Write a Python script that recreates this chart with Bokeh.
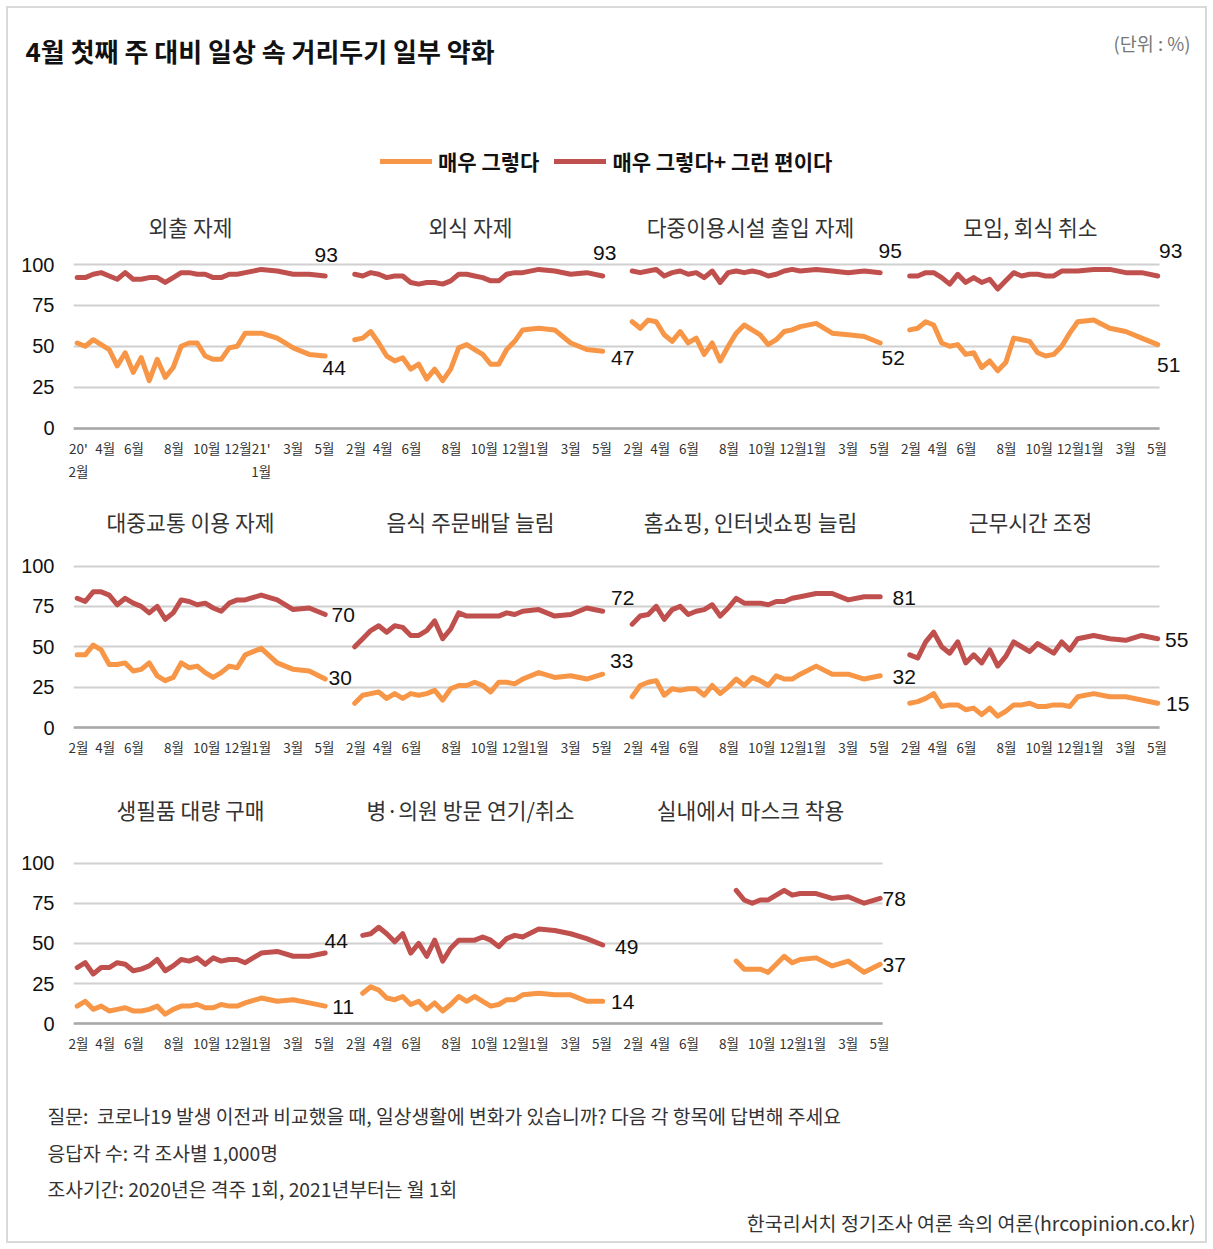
import math
from bokeh.plotting import figure
from bokeh.layouts import column
from bokeh.models import (ColumnDataSource, FixedTicker, Legend, LegendItem,
                          Range1d, Label, Grid)
from bokeh.core.properties import value
from bokeh.embed import file_html
from bokeh.resources import INLINE

KR = "Noto Sans CJK KR"
NUM = "Liberation Sans"
ORANGE = "#F79646"
RED = "#C0504D"

# ---------------- data ----------------
TITLE = "4월 첫째 주 대비 일상 속 거리두기 일부 약화"
UNIT = "(단위 : %)"
SERIES_NAMES = ["매우 그렇다", "매우 그렇다+ 그런 편이다"]

# survey waves: 2020 biweekly (22 waves), 2021 monthly (Jan-May)
WAVE_X = [0, 1, 2, 3, 4, 5, 6, 7, 8, 9, 10, 11, 12, 13, 14, 15, 16, 17, 18, 19, 20, 21,
          23, 25, 27, 29, 31]
TICK_X = [0.15, 3.5, 7.1, 12.1, 16.2, 20.1, 23.0, 27.0, 30.9]
TICK_LABELS = ["2월", "4월", "6월", "8월", "10월", "12월", "1월", "3월", "5월"]
FIRST_TICK_LABELS = ["20'\n2월", "4월", "6월", "8월", "10월", "12월", "21'\n1월", "3월", "5월"]
Y_TICKS = [0, 25, 50, 75, 100]

N = None
outing_very = [52, 50, 54, 51, 48, 38, 46, 34, 43, 29, 42, 31, 37, 50, 52, 52, 44, 42, 42, 49, 50, 58, 58, 55, 49, 45, 44]
outing_total = [92, 92, 94, 95, 93, 91, 95, 91, 91, 92, 92, 89, 92, 95, 95, 94, 94, 92, 92, 94, 94, 95, 97, 96, 94, 94, 93]
dining_very = [54, 55, 59, 52, 44, 41, 43, 36, 39, 30, 36, 29, 36, 49, 51, 48, 45, 39, 39, 48, 53, 60, 61, 60, 52, 48, 47]
dining_total = [94, 93, 95, 94, 92, 93, 93, 89, 88, 89, 89, 88, 90, 94, 94, 93, 92, 90, 90, 94, 95, 95, 97, 96, 94, 95, 93]
venue_very = [65, 61, 66, 65, 57, 53, 59, 52, 55, 45, 52, 41, 50, 58, 63, 60, 57, 51, 54, 59, 60, 62, 64, 58, 57, 56, 52]
venue_total = [96, 95, 96, 97, 93, 95, 96, 94, 95, 92, 96, 89, 95, 96, 95, 96, 95, 93, 94, 96, 97, 96, 97, 96, 95, 96, 95]
meeting_very = [60, 61, 65, 63, 52, 50, 51, 45, 46, 37, 41, 35, 40, 55, 54, 53, 46, 44, 45, 50, 58, 65, 66, 61, 59, 55, 51]
meeting_total = [93, 93, 95, 95, 92, 88, 94, 89, 92, 89, 91, 85, 90, 95, 93, 94, 94, 93, 93, 96, 96, 96, 97, 97, 95, 95, 93]

transit_very = [45, 45, 51, 48, 39, 39, 40, 35, 36, 40, 32, 29, 31, 40, 37, 38, 34, 31, 34, 38, 37, 45, 49, 40, 36, 35, 30]
transit_total = [80, 78, 84, 84, 82, 76, 80, 77, 75, 71, 75, 67, 71, 79, 78, 76, 77, 74, 72, 77, 79, 79, 82, 79, 73, 74, 70]
delivery_very = [15, 20, 21, 22, 18, 21, 18, 21, 20, 21, 23, 17, 24, 26, 26, 28, 26, 22, 28, 28, 27, 30, 34, 31, 32, 30, 33]
delivery_total = [50, 55, 60, 63, 59, 63, 62, 57, 57, 60, 66, 55, 61, 71, 69, 69, 69, 69, 69, 71, 70, 72, 73, 69, 70, 74, 72]
online_very = [19, 26, 28, 29, 20, 24, 23, 24, 24, 20, 26, 21, 25, 30, 26, 31, 29, 26, 32, 30, 30, 33, 38, 33, 33, 30, 32]
online_total = [64, 69, 70, 75, 67, 73, 75, 70, 72, 73, 76, 69, 74, 80, 77, 77, 77, 76, 78, 78, 80, 81, 83, 83, 79, 81, 81]
work_very = [15, 16, 18, 21, 13, 14, 14, 11, 12, 8, 12, 7, 10, 14, 14, 15, 13, 13, 14, 14, 13, 19, 21, 19, 19, 17, 15]
work_total = [45, 43, 53, 59, 50, 46, 53, 40, 45, 40, 48, 38, 44, 53, 50, 47, 52, 49, 46, 53, 48, 55, 57, 55, 54, 57, 55]

bulk_very = [11, 14, 9, 11, 8, 9, 10, 8, 8, 9, 11, 6, 9, 11, 11, 12, 10, 10, 12, 11, 11, 13, 16, 14, 15, 13, 11]
bulk_total = [35, 38, 31, 35, 35, 38, 37, 33, 34, 36, 40, 33, 36, 40, 39, 41, 37, 41, 39, 40, 40, 38, 44, 45, 42, 42, 44]
clinic_very = [N, 19, 23, 21, 16, 15, 17, 12, 14, 9, 13, 8, 12, 17, 14, 17, 14, 11, 12, 15, 15, 18, 19, 18, 18, 14, 14]
clinic_total = [N, 55, 56, 60, 56, 51, 56, 44, 50, 42, 52, 39, 47, 52, 52, 52, 54, 52, 48, 53, 55, 54, 59, 58, 56, 53, 49]
mask_very = [N, N, N, N, N, N, N, N, N, N, N, N, N, 39, 34, 34, 34, 32, 37, 42, 38, 40, 41, 36, 39, 32, 37]
mask_total = [N, N, N, N, N, N, N, N, N, N, N, N, N, 83, 77, 75, 77, 77, 80, 83, 80, 81, 81, 78, 79, 75, 78]

ROWS = [
    [("외출 자제", outing_very, outing_total),
     ("외식 자제", dining_very, dining_total),
     ("다중이용시설 출입 자제", venue_very, venue_total),
     ("모임, 회식 취소", meeting_very, meeting_total)],
    [("대중교통 이용 자제", transit_very, transit_total),
     ("음식 주문배달 늘림", delivery_very, delivery_total),
     ("홈쇼핑, 인터넷쇼핑 늘림", online_very, online_total),
     ("근무시간 조정", work_very, work_total)],
    [("생필품 대량 구매", bulk_very, bulk_total),
     ("병·의원 방문 연기/취소", clinic_very, clinic_total),
     ("실내에서 마스크 착용", mask_very, mask_total)],
]

FOOT_LINES = ["질문:\u00a0 코로나19 발생 이전과 비교했을 때, 일상생활에 변화가 있습니까? 다음 각 항목에 답변해 주세요",
              "응답자 수: 각 조사별 1,000명",
              "조사기간: 2020년은 격주 1회, 2021년부터는 월 1회"]
SOURCE = "한국리서치 정기조사 여론 속의 여론(hrcopinion.co.kr)"

# ---------------- layout / style ----------------
W = 1197
PAGE = 8
PX = 8.0                      # px per wave unit
PANEL_STEP = 277.5 / PX       # panel spacing in wave units
X0_PAGE = 76.7                # page x of first wave of first panel
FRAME_L = 73
FRAME_R = 1200
HEAD_BOTTOM = 128
ROW_GEOM = [
    dict(top=HEAD_BOTTOM, y0=427.5, y100=264.0, bottom=490, grid_right=1159, title=226),
    dict(top=490, y0=727.0, y100=565.5, bottom=772, grid_right=1159, title=521),
    dict(top=772, y0=1023.3, y100=862.5, bottom=1066, grid_right=882, title=809),
]
LEGEND_PAGE = (380, 161)
TITLE_X_PAGE = [190, 470, 750, 1030]
# end-label offsets in px (dx, dy down) : (total, very)
LABEL_OFF = [
    [((1, -21), (9, 12)), ((2, -23), (20, 7)), ((10, -22), (13, 15)), ((13, -25), (11, 20))],
    [((18, 1), (15, -1)), ((20, -13), (19, -13)), ((24, 1), (24, 1)), ((19, 1), (20, 1))],
    [((11, -12), (18, 1)), ((24, 2), (20, 1)), ((14, 1), (14, 1))],
]

HAS_CROSS = "cross_bounds" in Grid.properties()


def nan(v):
    return [float("nan") if a is None else a for a in v]


def make_row(r):
    g = ROW_GEOM[r]
    panels = ROWS[r]
    s = (g["y0"] - g["y100"]) / 100.0
    fig_h = g["bottom"] - g["top"]
    frame_h = int(round(g["y0"] + 4 - g["top"]))
    frame_w = FRAME_R - FRAME_L
    xs = (FRAME_L - X0_PAGE) / PX
    xe = xs + frame_w / PX
    xg = xs + (g["grid_right"] - FRAME_L) / PX
    ys = -(g["top"] + frame_h - g["y0"]) / s
    ye = (g["y0"] - g["top"]) / s
    p = figure(width=W, height=fig_h, x_range=Range1d(xs, xe), y_range=Range1d(ys, ye),
               output_backend="svg", toolbar_location=None, frame_align=False,
               min_border_left=FRAME_L - PAGE, min_border_right=W - (FRAME_R - PAGE),
               min_border_top=0, min_border_bottom=fig_h - frame_h)
    p.outline_line_color = None
    p.xgrid.visible = False
    p.yaxis.ticker = FixedTicker(ticks=Y_TICKS)
    if HAS_CROSS:
        p.ygrid.grid_line_color = "#d0d0d0"
        p.ygrid.grid_line_width = 2
        p.ygrid.cross_bounds = (xs, xg)
        p.add_layout(Grid(dimension=1, ticker=FixedTicker(ticks=[0]), cross_bounds=(xs, xg),
                          grid_line_color="#a8a8a8", grid_line_width=2.5))
    else:
        p.ygrid.visible = False
        gy = [t for t in Y_TICKS if t != 0]
        p.segment(x0=[xs] * len(gy), x1=[xg] * len(gy), y0=gy, y1=gy,
                  line_color="#d0d0d0", line_width=2)
        p.segment(x0=[xs], x1=[xg], y0=[0], y1=[0], line_color="#a8a8a8", line_width=2.5)
    p.yaxis.axis_line_color = None
    p.yaxis.major_tick_line_color = None
    p.yaxis.minor_tick_line_color = None
    p.yaxis.major_tick_out = 0
    p.yaxis.major_label_standoff = 19
    p.yaxis.major_label_text_font = NUM
    p.yaxis.major_label_text_font_size = "20px"
    p.yaxis.major_label_text_color = "#111111"

    ticks, overrides = [], {}
    for i in range(len(panels)):
        labs = FIRST_TICK_LABELS if (r == 0 and i == 0) else TICK_LABELS
        for t, lab in zip(TICK_X, labs):
            v = round(i * PANEL_STEP + t, 3)
            ticks.append(v)
            overrides[v] = lab
    p.xaxis.ticker = FixedTicker(ticks=ticks)
    p.xaxis.major_label_overrides = overrides
    p.xaxis.axis_line_color = None
    p.xaxis.major_tick_line_color = None
    p.xaxis.minor_tick_line_color = None
    p.xaxis.major_tick_out = 0
    p.xaxis.major_label_standoff = 5
    p.xaxis.major_label_text_font = KR
    p.xaxis.major_label_text_font_size = "13.5px"
    p.xaxis.major_label_text_color = "#333333"
    p.xaxis.major_label_text_line_height = 1.15

    tx, ty, tt = [], [], []
    renderers = []
    for i, (name, very, total) in enumerate(panels):
        x = [w + i * PANEL_STEP for w in WAVE_X]
        src = ColumnDataSource(dict(x=x, very=nan(very), total=nan(total)))
        rr = p.line("x", "total", source=src, line_color=RED, line_width=5,
                    line_join="round", line_cap="round")
        ro = p.line("x", "very", source=src, line_color=ORANGE, line_width=5,
                    line_join="round", line_cap="round")
        renderers.append((ro, rr))
        (dxt, dyt), (dxv, dyv) = LABEL_OFF[r][i]
        for val, dx, dy in ((total[-1], dxt, dyt), (very[-1], dxv, dyv)):
            p.add_layout(Label(x=x[-1] + dx / PX, y=val - dy / s, text=str(val),
                               text_font=NUM, text_font_size="21px", text_align="center",
                               text_baseline="middle", text_color="#111111"))
        tx.append(xs + (TITLE_X_PAGE[i] - FRAME_L) / PX)
        ty.append((g["y0"] - g["title"]) / s)
        tt.append(name)

    p.text(x=tx, y=ty, text=tt, text_font=value(KR), text_font_size="21.5px",
           text_align="center", text_baseline="middle", text_color="#333333")

    if r == 0:
        ro, rr = renderers[0]
        frame_bottom = g["top"] + frame_h
        leg = Legend(items=[LegendItem(label=SERIES_NAMES[0], renderers=[ro]),
                            LegendItem(label=SERIES_NAMES[1], renderers=[rr])],
                     orientation="horizontal",
                     location=(LEGEND_PAGE[0] - FRAME_L, frame_bottom - LEGEND_PAGE[1] - 15),
                     glyph_width=52, glyph_height=20,
                     label_text_font=KR, label_text_font_size="21px",
                     label_text_font_style="bold", label_text_color="#111111",
                     label_standoff=6, spacing=15, padding=0, margin=0,
                     border_line_color=None, background_fill_alpha=0)
        p.add_layout(leg)
    return p


# header
H0 = HEAD_BOTTOM - PAGE
hp = figure(width=W, height=H0, x_range=Range1d(0, W), y_range=Range1d(0, H0),
            x_axis_location=None, y_axis_location=None, min_border=0, frame_align=False,
            output_backend="svg", toolbar_location=None)
hp.outline_line_color = None
hp.grid.visible = False
hp.text(x=[17], y=[H0 - 42], text=[TITLE], text_font=value(KR), text_font_size="26px",
        text_font_style="bold", text_baseline="middle", text_color="#111111")
hp.text(x=[1182], y=[H0 - 34], text=[UNIT], text_font=value(KR), text_font_size="18.5px",
        text_align="right", text_baseline="middle", text_color="#777777")

rows = [make_row(r) for r in range(3)]

# footer
H4 = 175
fp = figure(width=W, height=H4, x_range=Range1d(0, W), y_range=Range1d(0, H4),
            x_axis_location=None, y_axis_location=None, min_border=0, frame_align=False,
            output_backend="svg", toolbar_location=None)
fp.outline_line_color = None
fp.grid.visible = False
fp.text(x=[39, 39, 39], y=[H4 - 49, H4 - 86, H4 - 122], text=FOOT_LINES,
        text_font=value(KR), text_font_size="19.3px", text_baseline="middle",
        text_color="#333333")
fp.text(x=[1187], y=[H4 - 156], text=[SOURCE], text_font=value(KR), text_font_size="19.5px",
        text_align="right", text_baseline="middle", text_color="#333333")

layout = column(hp, *rows, fp, styles={"margin": "8px", "outline": "2px solid #d9d9d9"})
open("out.html", "w").write(file_html(layout, INLINE))
